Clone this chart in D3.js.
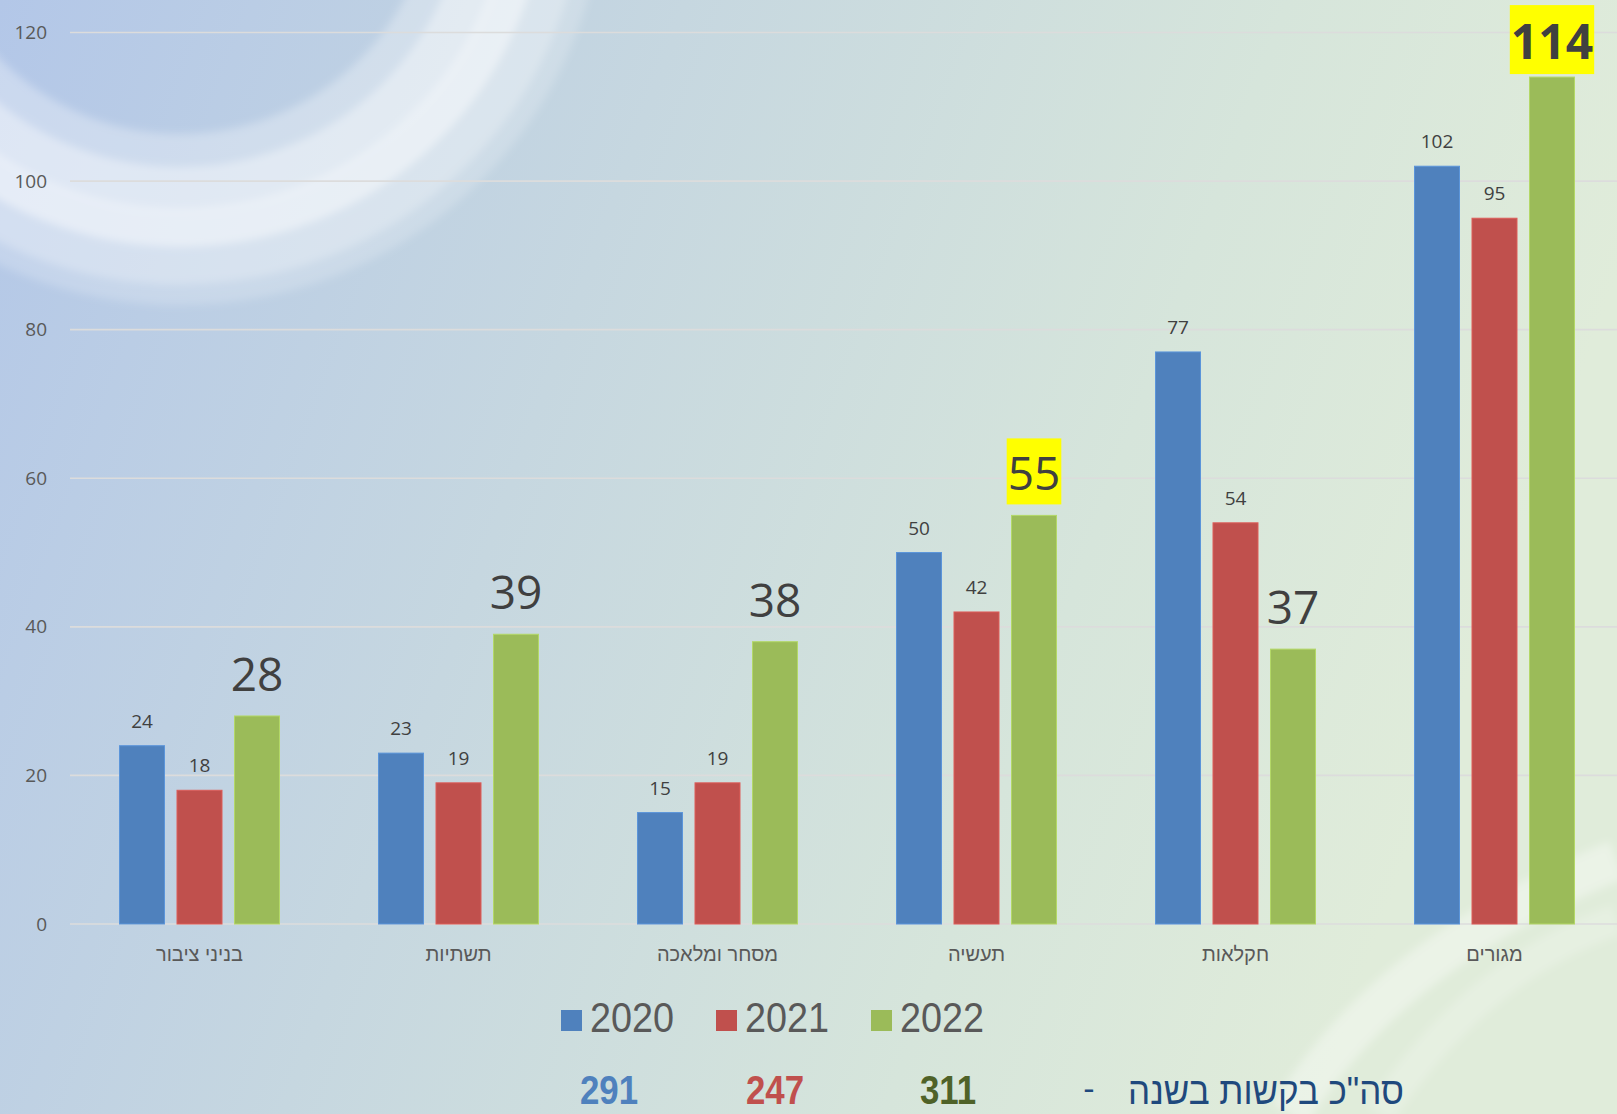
<!DOCTYPE html>
<html>
<head>
<meta charset="utf-8">
<script src="https://cdn.jsdelivr.net/npm/d3@7"></script>
<style>
  html, body { margin: 0; padding: 0; overflow: hidden; }
</style>
</head>
<body>
<div id="chart"></div>
<script>
// data
var categories = ['בניני ציבור', 'תשתיות', 'מסחר ומלאכה', 'תעשיה', 'חקלאות', 'מגורים']
var years = ['2020', '2021', '2022']
var values2020 = [24, 23, 15, 50, 77, 102]
var values2021 = [18, 19, 19, 42, 54, 95]
var values2022 = [28, 39, 38, 55, 37, 114]
var highlighted2022 = ['תעשיה', 'מגורים']
var yTicks = [0, 20, 40, 60, 80, 100, 120]
var totals = [291, 247, 311]
var totalsLabel = 'סה"כ בקשות בשנה'

var colors = { '2020': '#4f81bd', '2021': '#c0504d', '2022': '#9bbb59' }
var totalColors = ['#4f81bd', '#c0504d', '#4f6228']

var W = 1617, H = 1114
var margin = { left: 70, top: 32, right: -7, bottom: 190 }

var svg = d3.select('#chart').append('svg')
  .attr('width', W).attr('height', H)

// background
var defs = svg.append('defs')
var bg = defs.append('linearGradient').attr('id', 'bg')
  .attr('x1', 0).attr('y1', 0).attr('x2', 1).attr('y2', 0.25)
bg.append('stop').attr('offset', '0%').attr('stop-color', '#b3c7e8')
bg.append('stop').attr('offset', '40%').attr('stop-color', '#c6d7e0')
bg.append('stop').attr('offset', '75%').attr('stop-color', '#d6e5db')
bg.append('stop').attr('offset', '100%').attr('stop-color', '#e0ecda')
svg.append('rect').attr('width', W).attr('height', H).attr('fill', 'url(#bg)')

var blur = defs.append('filter').attr('id', 'soft')
blur.append('feGaussianBlur').attr('stdDeviation', 4)

// swoosh top-left
var sw = svg.append('g').attr('filter', 'url(#soft)')
var rings = [
  { r: 272, w: 36, o: 0.3 },
  { r: 310, w: 44, o: 0.55 },
  { r: 348, w: 36, o: 0.65 },
  { r: 384, w: 40, o: 0.4 },
  { r: 414, w: 22, o: 0.2 }
]
rings.forEach(function (d) {
  sw.append('circle')
    .attr('cx', 180).attr('cy', -120).attr('r', d.r)
    .attr('fill', 'none').attr('stroke', '#ffffff')
    .attr('stroke-width', d.w).attr('stroke-opacity', d.o)
})
// faint streak bottom right
svg.append('path')
  .attr('d', 'M1290,1114 C1360,1000 1470,920 1617,860')
  .attr('fill', 'none').attr('stroke', '#ffffff')
  .attr('stroke-width', 40).attr('stroke-opacity', 0.35)
  .attr('filter', 'url(#soft)')
svg.append('path')
  .attr('d', 'M1380,1114 C1450,1010 1530,950 1617,920')
  .attr('fill', 'none').attr('stroke', '#ffffff')
  .attr('stroke-width', 30).attr('stroke-opacity', 0.2)
  .attr('filter', 'url(#soft)')

var plotW = 1554
var y0 = 924

var y = d3.scaleLinear().domain([0, 120]).range([y0, 32.5])
var x0 = d3.scaleBand().domain(categories).range([margin.left, margin.left + plotW])
var x1 = d3.scaleBand().domain(years)
  .range([x0.bandwidth() / 2 - 80, x0.bandwidth() / 2 + 80])
  .paddingInner(0.2174)

// gridlines
svg.append('g')
  .selectAll('line')
  .data(yTicks)
  .enter()
  .append('line')
    .attr('x1', margin.left).attr('x2', W)
    .attr('y1', function (d) { return y(d) }).attr('y2', function (d) { return y(d) })
    .attr('stroke', '#dcdcdc').attr('stroke-width', 1.6)

// y axis labels
var yAxis = svg.append('g')
  .attr('transform', 'translate(' + 47 + ',0)')
  .call(d3.axisLeft(y).tickValues(yTicks).tickSize(0).tickPadding(0))
yAxis.select('.domain').remove()
yAxis.selectAll('text')
  .style('font-family', '"Open Sans", "Noto Sans", sans-serif')
  .style('font-size', '19px')
  .attr('fill', '#595959')

// bars
var rows = categories.map(function (c, i) {
  return { cat: c, vals: [values2020[i], values2021[i], values2022[i]] }
})

var groups = svg.append('g').selectAll('g')
  .data(rows)
  .enter()
  .append('g')
    .attr('transform', function (d) { return 'translate(' + x0(d.cat) + ',0)' })

groups.selectAll('rect')
  .data(function (d) {
    return years.map(function (yr, j) { return { cat: d.cat, year: yr, v: d.vals[j] } })
  })
  .enter()
  .append('rect')
    .attr('x', function (d) { return x1(d.year) })
    .attr('y', function (d) { return y(d.v) })
    .attr('width', x1.bandwidth())
    .attr('height', function (d) { return y0 - y(d.v) })
    .attr('fill', function (d) { return colors[d.year] })
    .attr('stroke', function (d) { return d3.color(colors[d.year]).brighter(0.4) })
    .attr('stroke-width', 1)

// value labels
groups.each(function (d) {
  var g = d3.select(this)
  years.forEach(function (yr, j) {
    var v = d.vals[j]
    var cx = x1(yr) + x1.bandwidth() / 2
    if (yr !== '2022') {
      g.append('text')
        .attr('x', cx).attr('y', y(v) - 18)
        .attr('text-anchor', 'middle')
        .style('font-family', '"Open Sans", "Noto Sans", sans-serif')
        .style('font-size', '19px')
        .attr('fill', '#404040')
        .text(v)
    } else {
      var hl = highlighted2022.indexOf(d.cat) >= 0
      var big = d.cat === 'מגורים'
      var t = g.append('text')
        .attr('x', cx).attr('y', y(v) - (big ? 18 : 25))
        .attr('text-anchor', 'middle')
        .style('font-family', '"Open Sans", "Noto Sans", sans-serif')
        .style('font-size', big ? '48px' : '46px')
        .style('font-weight', big ? 'bold' : 'normal')
        .attr('fill', '#404040')
        .text(v)
      if (hl) {
        var bb = t.node().getBBox()
        g.insert('rect', function () { return t.node() })
          .attr('x', bb.x - 1).attr('y', bb.y - 3)
          .attr('width', bb.width + 2).attr('height', bb.height + 4)
          .attr('fill', '#ffff00')
      }
    }
  })
})

// category labels
svg.append('g').selectAll('text')
  .data(categories)
  .enter()
  .append('text')
    .attr('x', function (d) { return x0(d) + x0.bandwidth() / 2 })
    .attr('y', 961)
    .attr('text-anchor', 'middle')
    .attr('direction', 'rtl')
    .style('font-family', '"Liberation Sans", Arial, sans-serif')
    .style('font-size', '20px')
    .attr('fill', '#595959')
    .text(function (d) { return d })

// legend
var legendX = [561, 716, 871]
var legend = svg.append('g')
years.forEach(function (yr, i) {
  legend.append('rect')
    .attr('x', legendX[i]).attr('y', 1010)
    .attr('width', 21).attr('height', 21)
    .attr('fill', colors[yr])
  legend.append('text')
    .attr('transform', 'translate(' + (legendX[i] + 29) + ',1032) scale(0.9,1)')
    .style('font-family', '"Liberation Sans Narrow", "Arial Narrow", "Liberation Sans", sans-serif')
    .style('font-size', '42px')
    .attr('fill', '#595959')
    .text(yr)
})

// yearly totals
var totalX = [609, 775, 948]
totals.forEach(function (t, i) {
  svg.append('text')
    .attr('transform', 'translate(' + totalX[i] + ',1104) scale(0.85,1)')
    .attr('text-anchor', 'middle')
    .style('font-family', '"Liberation Sans Narrow", "Arial Narrow", "Liberation Sans", sans-serif')
    .style('font-size', '41px')
    .style('font-weight', 'bold')
    .attr('fill', totalColors[i])
    .text(t)
})
svg.append('text')
  .attr('x', 1089).attr('y', 1100)
  .attr('text-anchor', 'middle')
  .style('font-family', '"Liberation Sans", sans-serif')
  .style('font-size', '34px')
  .attr('fill', '#1f497d')
  .text('-')
svg.append('text')
  .attr('transform', 'translate(1404,1104) scale(0.92,1)')
  .attr('text-anchor', 'start')
  .attr('direction', 'rtl')
  .style('font-family', '"Liberation Sans Narrow", "Liberation Sans", sans-serif')
  .style('font-size', '38px')
  .style('font-weight', '500')
  .attr('fill', '#1f497d')
  .text(totalsLabel)
</script>
</body>
</html>
